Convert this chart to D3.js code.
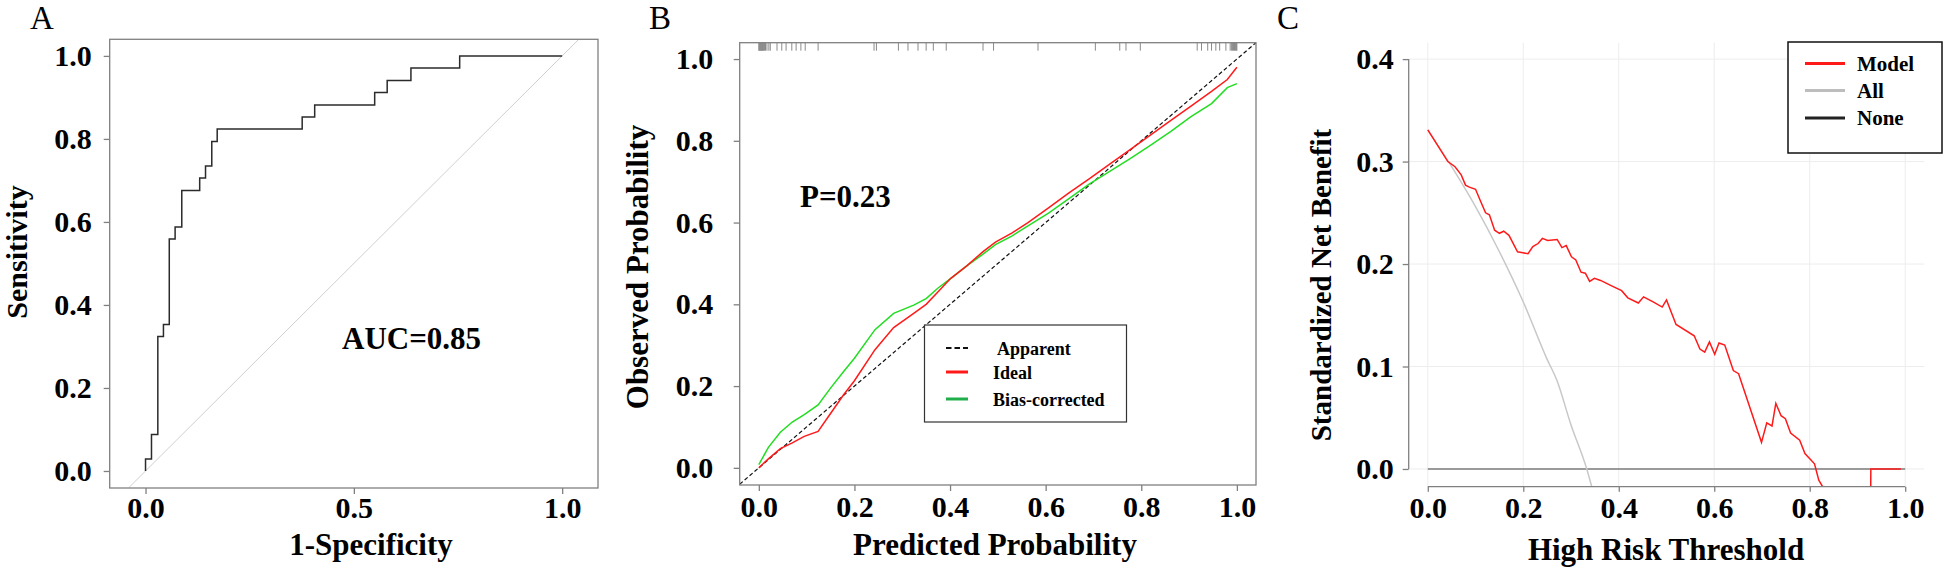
<!DOCTYPE html>
<html><head><meta charset="utf-8">
<script src="https://cdn.jsdelivr.net/npm/d3@7"></script>
<style>
html,body{margin:0;padding:0;background:#fff;}
svg{display:block;font-family:"Liberation Serif","Times New Roman",serif;}
</style></head><body>
<svg id="c" width="1944" height="571"></svg>
<script>
// ---------- Panel A: ROC ----------
const rocX = [0, 0, 0.0143, 0.0295, 0.043, 0.057, 0.071, 0.087, 0.130, 0.144, 0.159, 0.172, 0.376, 0.406, 0.550, 0.580, 0.637, 0.754, 1.0];
const rocY = [0, 0.029, 0.088, 0.324, 0.353, 0.559, 0.588, 0.676, 0.706, 0.735, 0.794, 0.824, 0.853, 0.882, 0.912, 0.941, 0.971, 1.0, 1.0];
const ticksAx = [0, 0.5, 1.0];
const ticksAy = [0, 0.2, 0.4, 0.6, 0.8, 1.0];
const aucLabel = "AUC=0.85";

// ---------- Panel B: calibration ----------
const calX   = [0, 0.02, 0.045, 0.07, 0.095, 0.124, 0.15, 0.177, 0.2, 0.243, 0.282, 0.324, 0.35, 0.375, 0.401, 0.435, 0.469, 0.495, 0.529, 0.563, 0.606, 0.648, 0.691, 0.734, 0.776, 0.819, 0.862, 0.904, 0.947, 0.98, 1.0];
const idealY = [0, 0.022, 0.047, 0.061, 0.077, 0.089, 0.133, 0.178, 0.213, 0.289, 0.343, 0.378, 0.40, 0.431, 0.463, 0.494, 0.529, 0.552, 0.574, 0.60, 0.636, 0.672, 0.707, 0.743, 0.778, 0.814, 0.85, 0.885, 0.921, 0.95, 0.98];
const biasY  = [0.008, 0.05, 0.087, 0.112, 0.130, 0.154, 0.195, 0.235, 0.268, 0.338, 0.378, 0.398, 0.414, 0.44, 0.463, 0.494, 0.523, 0.546, 0.567, 0.592, 0.623, 0.658, 0.694, 0.725, 0.756, 0.789, 0.823, 0.859, 0.891, 0.93, 0.94];
const rugX = [0.0, 0.001, 0.002, 0.003, 0.004, 0.005, 0.006, 0.007, 0.008, 0.009, 0.010, 0.012, 0.014, 0.017, 0.021, 0.024, 0.038, 0.048, 0.057, 0.069, 0.078, 0.088, 0.097, 0.124, 0.241, 0.246, 0.292, 0.312, 0.333, 0.35, 0.365, 0.392, 0.469, 0.491, 0.584, 0.704, 0.755, 0.768, 0.798, 0.917, 0.926, 0.939, 0.947, 0.956, 0.964, 0.977, 0.986, 0.989, 0.991, 0.993, 0.995, 0.997, 0.999, 1.0];
const ticksB = [0, 0.2, 0.4, 0.6, 0.8, 1.0];
const legendB = ["Apparent", "Ideal", "Bias-corrected"];
const pLabel = "P=0.23";

// ---------- Panel C: decision curve ----------
const dcaT = [0, 0.042, 0.057, 0.070, 0.079, 0.087, 0.100, 0.109, 0.121, 0.129, 0.140, 0.150, 0.159, 0.170, 0.188, 0.199, 0.210, 0.220, 0.231, 0.240, 0.251, 0.271, 0.281, 0.290, 0.301, 0.310, 0.321, 0.330, 0.339, 0.349, 0.362, 0.384, 0.406, 0.419, 0.441, 0.452, 0.472, 0.491, 0.500, 0.520, 0.558, 0.570, 0.580, 0.590, 0.601, 0.610, 0.622, 0.640, 0.651, 0.699, 0.710, 0.721, 0.729, 0.740, 0.749, 0.760, 0.779, 0.790, 0.810, 0.819, 0.828, 0.85, 0.88, 0.91, 0.927, 0.928, 0.991];
const dcaModel = [0.331, 0.300, 0.295, 0.287, 0.277, 0.275, 0.273, 0.263, 0.250, 0.248, 0.233, 0.230, 0.232, 0.228, 0.212, 0.211, 0.210, 0.217, 0.220, 0.225, 0.223, 0.224, 0.216, 0.218, 0.207, 0.204, 0.192, 0.191, 0.183, 0.186, 0.184, 0.179, 0.174, 0.167, 0.162, 0.168, 0.163, 0.158, 0.165, 0.141, 0.130, 0.117, 0.114, 0.124, 0.112, 0.123, 0.121, 0.096, 0.093, 0.026, 0.045, 0.042, 0.064, 0.052, 0.049, 0.035, 0.028, 0.015, 0.005, -0.011, -0.018, -0.04, -0.06, -0.08, -0.09, 0.0, 0.0];
const allT = [0, 0.05, 0.10, 0.15, 0.20, 0.25, 0.27, 0.30, 0.333, 0.345];
const allY = [0.331, 0.295, 0.256, 0.212, 0.163, 0.107, 0.087, 0.043, 0.0, -0.02];
const noneT = [0, 1.0];
const noneY = [0, 0];
const ticksCx = [0, 0.2, 0.4, 0.6, 0.8, 1.0];
const ticksCy = [0, 0.1, 0.2, 0.3, 0.4];
const legendC = ["Model", "All", "None"];

const svg = d3.select("#c");
const fmt = d3.format(".1f");
const AXC = "#808080";
const TXT = "#000";

function styleAxis(g, fs) {
  g.attr("font-size", null).attr("font-family", null);
  g.select(".domain").remove();
  g.selectAll(".tick line").attr("stroke", AXC).attr("stroke-width", 1.3);
  g.selectAll(".tick text").attr("fill", TXT).attr("font-size", fs + "px").attr("font-weight", "bold");
}
function title(x, y, text, fs, rot) {
  const t = svg.append("text").attr("font-size", fs + "px").attr("font-weight", "bold")
    .attr("fill", TXT).attr("text-anchor", "middle").text(text);
  if (rot) t.attr("transform", `translate(${x},${y}) rotate(-90)`);
  else t.attr("x", x).attr("y", y);
  return t;
}
function panelLetter(x, y, t) {
  svg.append("text").attr("x", x).attr("y", y).attr("font-size", "33px").attr("fill", TXT).text(t);
}

// ================= Panel A =================
{
  const x = d3.scaleLinear().domain([-0.086, 1.086]).range([109.7, 598]);
  const y = d3.scaleLinear().domain([-0.041, 1.04]).range([488, 39.3]);
  const g = svg.append("g");
  g.append("clipPath").attr("id", "clipA").append("rect")
    .attr("x", x.range()[0]).attr("y", y.range()[1])
    .attr("width", x.range()[1] - x.range()[0]).attr("height", y.range()[0] - y.range()[1]);
  g.append("line").attr("clip-path", "url(#clipA)")
    .attr("x1", x(-0.04)).attr("y1", y(-0.04)).attr("x2", x(1.04)).attr("y2", y(1.04))
    .attr("stroke", "#cfcfcf").attr("stroke-width", 1);
  const pts = rocX.map((d, i) => [d, rocY[i]]);
  g.append("path").datum(pts)
    .attr("d", d3.line().x(d => x(d[0])).y(d => y(d[1])).curve(d3.curveStepAfter))
    .attr("fill", "none").attr("stroke", "#2b2b2b").attr("stroke-width", 1.5);
  g.append("rect").attr("x", x.range()[0]).attr("y", y.range()[1])
    .attr("width", x.range()[1] - x.range()[0]).attr("height", y.range()[0] - y.range()[1])
    .attr("fill", "none").attr("stroke", AXC).attr("stroke-width", 1.3);
  const ay = g.append("g").attr("transform", `translate(${x.range()[0]},0)`)
    .call(d3.axisLeft(y).tickValues(ticksAy).tickFormat(fmt).tickSize(6).tickPadding(12));
  styleAxis(ay, 30);
  const ax = g.append("g").attr("transform", `translate(0,${y.range()[0]})`)
    .call(d3.axisBottom(x).tickValues(ticksAx).tickFormat(fmt).tickSize(6).tickPadding(3));
  styleAxis(ax, 30);
  g.append("text").attr("x", 342).attr("y", 349).attr("font-size", "31px").attr("font-weight", "bold")
    .attr("fill", TXT).text(aucLabel);
  title(371, 555, "1-Specificity", 31, false);
  title(27, 252, "Sensitivity", 30, true);
  panelLetter(30, 29, "A");
}

// ================= Panel B =================
{
  const x = d3.scaleLinear().domain([-0.04, 1.04]).range([739.7, 1256]);
  const y = d3.scaleLinear().domain([-0.042, 1.04]).range([485, 42.7]);
  const g = svg.append("g");
  g.append("clipPath").attr("id", "clipB").append("rect")
    .attr("x", x.range()[0]).attr("y", y.range()[1])
    .attr("width", x.range()[1] - x.range()[0]).attr("height", y.range()[0] - y.range()[1]);
  // rug
  g.selectAll("line.rug").data(rugX).join("line").attr("class", "rug")
    .attr("x1", d => x(d)).attr("x2", d => x(d))
    .attr("y1", y.range()[1]).attr("y2", y.range()[1] + 8)
    .attr("stroke", "#8a8a8a").attr("stroke-width", 1);
  // diagonal
  g.append("line").attr("clip-path", "url(#clipB)")
    .attr("x1", x(-0.04)).attr("y1", y(-0.04)).attr("x2", x(1.04)).attr("y2", y(1.04))
    .attr("stroke", "#111").attr("stroke-width", 1.2).attr("stroke-dasharray", "4,2.5");
  const line = d3.line().x(d => x(d[0])).y(d => y(d[1]));
  g.append("path").datum(calX.map((d, i) => [d, biasY[i]])).attr("d", line)
    .attr("fill", "none").attr("stroke", "#22dd22").attr("stroke-width", 1.5);
  g.append("path").datum(calX.map((d, i) => [d, idealY[i]])).attr("d", line)
    .attr("fill", "none").attr("stroke", "#ff1a1a").attr("stroke-width", 1.5);
  g.append("rect").attr("x", x.range()[0]).attr("y", y.range()[1])
    .attr("width", x.range()[1] - x.range()[0]).attr("height", y.range()[0] - y.range()[1])
    .attr("fill", "none").attr("stroke", AXC).attr("stroke-width", 1.3);
  const ay = g.append("g").attr("transform", `translate(${x.range()[0]},0)`)
    .call(d3.axisLeft(y).tickValues(ticksB).tickFormat(fmt).tickSize(6).tickPadding(20.5));
  styleAxis(ay, 30);
  const ax = g.append("g").attr("transform", `translate(0,${y.range()[0]})`)
    .call(d3.axisBottom(x).tickValues(ticksB).tickFormat(fmt).tickSize(6).tickPadding(4.5));
  styleAxis(ax, 30);
  g.append("text").attr("x", 800).attr("y", 206.5).attr("font-size", "31px").attr("font-weight", "bold")
    .attr("fill", TXT).text(pLabel);
  // legend
  const lg = g.append("g");
  lg.append("rect").attr("x", 924.5).attr("y", 325).attr("width", 202).attr("height", 97)
    .attr("fill", "#fff").attr("stroke", "#333").attr("stroke-width", 1.2);
  const lcol = ["#111", "#ff1a1a", "#1fae4a"];
  const ly = [348, 372, 399];
  const ltx = [997, 993, 993];
  legendB.forEach((name, i) => {
    const l = lg.append("line").attr("x1", 946).attr("x2", 968).attr("y1", ly[i]).attr("y2", ly[i])
      .attr("stroke", lcol[i]).attr("stroke-width", i === 0 ? 2 : 3);
    if (i === 0) l.attr("stroke-dasharray", "5.5,3");
    lg.append("text").attr("x", ltx[i]).attr("y", ly[i] + 6.5).attr("font-size", "18px")
      .attr("font-weight", "bold").attr("fill", TXT).text(name);
  });
  title(995, 555, "Predicted Probability", 31, false);
  title(648, 267, "Observed Probability", 31, true);
  panelLetter(649, 29, "B");
}

// ================= Panel C =================
{
  const x = d3.scaleLinear().domain([-0.04, 1.04]).range([1408.7, 1924.3]);
  const y = d3.scaleLinear().domain([-0.0173, 0.416]).range([486.7, 42.7]);
  const g = svg.append("g");
  g.append("clipPath").attr("id", "clipC").append("rect")
    .attr("x", x.range()[0]).attr("y", y.range()[1])
    .attr("width", x.range()[1] - x.range()[0]).attr("height", y.range()[0] - y.range()[1]);
  // grid
  g.selectAll("line.gx").data(ticksCx).join("line").attr("class", "gx")
    .attr("x1", d => x(d)).attr("x2", d => x(d)).attr("y1", y.range()[1]).attr("y2", y.range()[0])
    .attr("stroke", "#ededed").attr("stroke-width", 1);
  g.selectAll("line.gy").data(ticksCy).join("line").attr("class", "gy")
    .attr("y1", d => y(d)).attr("y2", d => y(d)).attr("x1", x.range()[0]).attr("x2", x.range()[1])
    .attr("stroke", "#ededed").attr("stroke-width", 1);
  const line = d3.line().x(d => x(d[0])).y(d => y(d[1]));
  const pc = g.append("g").attr("clip-path", "url(#clipC)");
  pc.append("path").datum(noneT.map((d, i) => [d, noneY[i]])).attr("d", line)
    .attr("fill", "none").attr("stroke", "#9a9a9a").attr("stroke-width", 2);
  pc.append("path").datum(allT.map((d, i) => [d, allY[i]])).attr("d", line.curve(d3.curveMonotoneX))
    .attr("fill", "none").attr("stroke", "#c8c8c8").attr("stroke-width", 1.5);
  line.curve(d3.curveLinear);
  pc.append("path").datum(dcaT.map((d, i) => [d, dcaModel[i]])).attr("d", line)
    .attr("fill", "none").attr("stroke", "#ff1a1a").attr("stroke-width", 1.5);
  // axes (R-style: line spans tick range)
  g.append("line").attr("x1", x.range()[0]).attr("x2", x.range()[0])
    .attr("y1", y(ticksCy[0])).attr("y2", y(ticksCy[ticksCy.length - 1]))
    .attr("stroke", AXC).attr("stroke-width", 1.3);
  g.append("line").attr("y1", y.range()[0]).attr("y2", y.range()[0])
    .attr("x1", x(ticksCx[0])).attr("x2", x(ticksCx[ticksCx.length - 1]))
    .attr("stroke", AXC).attr("stroke-width", 1.3);
  const ay = g.append("g").attr("transform", `translate(${x.range()[0]},0)`)
    .call(d3.axisLeft(y).tickValues(ticksCy).tickFormat(fmt).tickSize(6).tickPadding(9));
  styleAxis(ay, 30);
  const ax = g.append("g").attr("transform", `translate(0,${y.range()[0]})`)
    .call(d3.axisBottom(x).tickValues(ticksCx).tickFormat(fmt).tickSize(5).tickPadding(5));
  styleAxis(ax, 30);
  // legend
  const lg = g.append("g");
  lg.append("rect").attr("x", 1788).attr("y", 42).attr("width", 154).attr("height", 111)
    .attr("fill", "#fff").attr("stroke", "#111").attr("stroke-width", 1.5);
  const lcol = ["#ff1a1a", "#bdbdbd", "#222"];
  const ly = [63.5, 90.5, 118];
  legendC.forEach((name, i) => {
    lg.append("line").attr("x1", 1805).attr("x2", 1845).attr("y1", ly[i]).attr("y2", ly[i])
      .attr("stroke", lcol[i]).attr("stroke-width", 3);
    lg.append("text").attr("x", 1857).attr("y", ly[i] + 7).attr("font-size", "21px")
      .attr("font-weight", "bold").attr("fill", TXT).text(name);
  });
  title(1666, 560, "High Risk Threshold", 31, false);
  title(1331, 285, "Standardized Net Benefit", 29, true);
  panelLetter(1277, 29, "C");
}
</script>
</body></html>
